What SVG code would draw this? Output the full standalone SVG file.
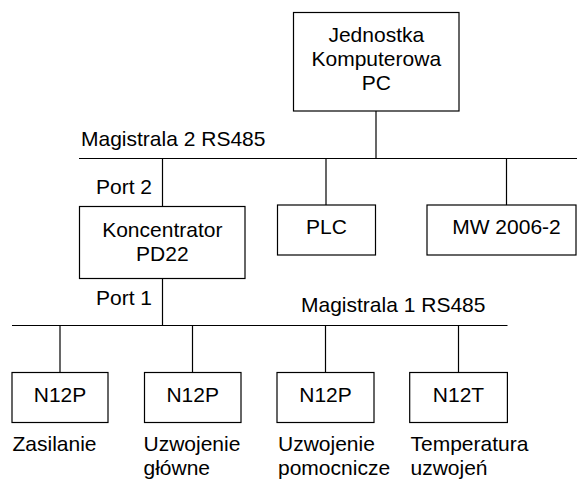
<svg xmlns="http://www.w3.org/2000/svg" width="577" height="479" viewBox="0 0 577 479">
<style>
.box{fill:#fff;stroke:#000;stroke-width:1.2}
.ln{stroke:#000;stroke-width:1.2;fill:none}
text{font-family:"Liberation Sans",Arial,sans-serif;font-size:21px;fill:#000}
.c{text-anchor:middle}
</style>
<rect width="577" height="479" fill="#fff"/>
<g id="connectors">
<line class="ln" x1="376" y1="111" x2="376" y2="158.5"/>
<line class="ln" x1="79" y1="158.5" x2="577" y2="158.5"/>
<line class="ln" x1="162.5" y1="158.5" x2="162.5" y2="206.5"/>
<line class="ln" x1="326" y1="158.5" x2="326" y2="205"/>
<line class="ln" x1="506.5" y1="158.5" x2="506.5" y2="205"/>
<line class="ln" x1="162.5" y1="278.5" x2="162.5" y2="325.5"/>
<line class="ln" x1="12" y1="325.5" x2="507.5" y2="325.5"/>
<line class="ln" x1="60" y1="325.5" x2="60" y2="372.5"/>
<line class="ln" x1="192.5" y1="325.5" x2="192.5" y2="372.5"/>
<line class="ln" x1="325.5" y1="325.5" x2="325.5" y2="372.5"/>
<line class="ln" x1="458.5" y1="325.5" x2="458.5" y2="372.5"/>
<text x="81" y="146">Magistrala 2 RS485</text>
<text x="96" y="194">Port 2</text>
<text x="96" y="305">Port 1</text>
<text x="301" y="312">Magistrala 1 RS485</text>
</g>
<g id="pc">
<rect class="box" x="293.5" y="12.5" width="165.5" height="98.5"/>
<text class="c" x="376.3" y="42">Jednostka</text>
<text class="c" x="376.3" y="66">Komputerowa</text>
<text class="c" x="376.3" y="89.5">PC</text>
</g>
<g id="koncentrator">
<rect class="box" x="79.5" y="206.5" width="165.5" height="72"/>
<text class="c" x="162.3" y="236.5">Koncentrator</text>
<text class="c" x="162.3" y="260.5">PD22</text>
</g>
<g id="plc">
<rect class="box" x="277.5" y="205" width="98" height="50"/>
<text class="c" x="326.5" y="234">PLC</text>
</g>
<g id="mw">
<rect class="box" x="427" y="205" width="149" height="50"/>
<text class="c" x="506.5" y="234">MW 2006-2</text>
</g>
<g id="n1">
<rect class="box" x="12" y="372.5" width="96" height="50"/>
<text class="c" x="60" y="401.5">N12P</text>
<text x="12.5" y="451">Zasilanie</text>
</g>
<g id="n2">
<rect class="box" x="144.5" y="372.5" width="96.5" height="50"/>
<text class="c" x="192.7" y="401.5">N12P</text>
<text x="143.5" y="451">Uzwojenie</text>
<text x="143.5" y="475">główne</text>
</g>
<g id="n3">
<rect class="box" x="277" y="372.5" width="97" height="50"/>
<text class="c" x="325.5" y="401.5">N12P</text>
<text x="278" y="451">Uzwojenie</text>
<text x="278" y="475">pomocnicze</text>
</g>
<g id="n4">
<rect class="box" x="409.7" y="372.5" width="97.7" height="50"/>
<text class="c" x="458.5" y="401.5">N12T</text>
<text x="410.5" y="451">Temperatura</text>
<text x="410.5" y="475">uzwojeń</text>
</g>
</svg>
